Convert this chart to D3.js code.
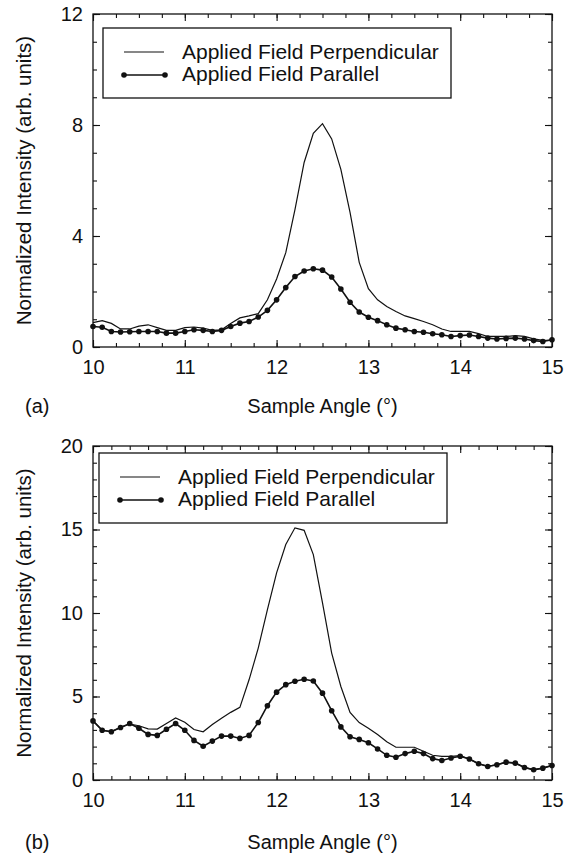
<!DOCTYPE html>
<meta charset="utf-8">
<style>

body {
  margin: 0;
  background: #fff;
}

svg {
  display: block;
}

text {
  font-family: "Liberation Sans", Arial, Helvetica, sans-serif;
  fill: #111;
}

.frame {
  fill: none;
  stroke: #111;
  stroke-width: 1.3;
}

.perp {
  fill: none;
  stroke: #111;
  stroke-width: 1.2;
}

.para {
  fill: none;
  stroke: #111;
  stroke-width: 1.6;
}

.dot {
  fill: #111;
}

</style>
<body>
<script src="https://cdn.jsdelivr.net/npm/d3@7"></script>
<script>

// sample angles (degrees), one reading every 0.1 deg
var angles = [10.0, 10.1, 10.2, 10.3, 10.4, 10.5, 10.6, 10.7, 10.8, 10.9,
              11.0, 11.1, 11.2, 11.3, 11.4, 11.5, 11.6, 11.7, 11.8, 11.9,
              12.0, 12.1, 12.2, 12.3, 12.4, 12.5, 12.6, 12.7, 12.8, 12.9,
              13.0, 13.1, 13.2, 13.3, 13.4, 13.5, 13.6, 13.7, 13.8, 13.9,
              14.0, 14.1, 14.2, 14.3, 14.4, 14.5, 14.6, 14.7, 14.8, 14.9, 15.0];

// panel (a)
var perpA = [0.88, 0.95, 0.85, 0.65, 0.65, 0.75, 0.80, 0.70, 0.60, 0.60,
             0.70, 0.72, 0.68, 0.60, 0.62, 0.85, 1.05, 1.12, 1.20, 1.70,
             2.45, 3.40, 4.95, 6.65, 7.70, 8.05, 7.50, 6.40, 4.85, 3.05,
             2.10, 1.70, 1.46, 1.28, 1.12, 1.02, 0.92, 0.80, 0.65, 0.56,
             0.56, 0.56, 0.48, 0.38, 0.38, 0.38, 0.41, 0.38, 0.29, 0.24, 0.24];

var paraA = [0.74, 0.71, 0.56, 0.54, 0.55, 0.56, 0.56, 0.56, 0.50, 0.50,
             0.56, 0.62, 0.60, 0.56, 0.60, 0.74, 0.86, 0.92, 1.08, 1.32,
             1.70, 2.14, 2.54, 2.74, 2.82, 2.77, 2.52, 2.09, 1.61, 1.26,
             1.07, 0.95, 0.80, 0.68, 0.62, 0.56, 0.53, 0.48, 0.44, 0.38,
             0.41, 0.43, 0.38, 0.32, 0.29, 0.31, 0.32, 0.29, 0.23, 0.20, 0.26];

// panel (b)
var perpB = [3.54, 2.98, 2.90, 3.15, 3.35, 3.25, 3.06, 3.05, 3.38, 3.72,
             3.46, 3.02, 2.89, 3.32, 3.70, 4.05, 4.35, 6.00, 7.90, 10.20,
             12.40, 14.10, 15.10, 14.95, 13.50, 10.60, 7.60, 5.60, 4.05, 3.44,
             3.10, 2.73, 2.29, 1.96, 1.96, 1.96, 1.72, 1.48, 1.42, 1.42,
             1.46, 1.26, 0.97, 0.83, 0.91, 1.07, 1.01, 0.76, 0.62, 0.71, 0.88];

var paraB = [3.54, 2.98, 2.89, 3.14, 3.38, 3.10, 2.73, 2.67, 3.04, 3.38,
             2.98, 2.37, 2.02, 2.33, 2.63, 2.63, 2.49, 2.67, 3.44, 4.45,
             5.26, 5.71, 5.91, 6.03, 5.93, 5.20, 4.15, 3.18, 2.59, 2.43,
             2.23, 1.86, 1.48, 1.36, 1.58, 1.72, 1.58, 1.28, 1.17, 1.32,
             1.42, 1.26, 0.97, 0.81, 0.91, 1.07, 1.01, 0.75, 0.61, 0.71, 0.87];

var xTicks = [10, 11, 12, 13, 14, 15];
var yTicksA = [0, 4, 8, 12];
var yTicksB = [0, 5, 10, 15, 20];
var legendLabels = ["Applied Field Perpendicular", "Applied Field Parallel"];
var xTitle = "Sample Angle (°)";
var yTitle = "Normalized Intensity (arb. units)";

var width = 574,
    height = 854;

var svg = d3.select("body").append("svg")
    .attr("width", width)
    .attr("height", height);

var left = 93, right = 552;

var x = d3.scaleLinear().domain([10, 15]).range([left, right]);

function drawPanel(opt) {
  var y = d3.scaleLinear().domain([0, opt.yMax]).range([opt.bottom, opt.top]);
  var g = svg.append("g");

  // minor ticks on all four sides, pointing in
  var xMinor = d3.range(10, 15.0001, opt.xMinorStep);
  var yMinor = d3.range(0, opt.yMax + 0.0001, opt.yMinorStep);

  g.append("g").attr("transform", "translate(0," + opt.bottom + ")")
      .call(d3.axisBottom(x).tickValues(xMinor).tickSize(-4).tickFormat(""));
  g.append("g").attr("transform", "translate(0," + opt.top + ")")
      .call(d3.axisTop(x).tickValues(xMinor).tickSize(-4).tickFormat(""));
  g.append("g").attr("transform", "translate(" + left + ",0)")
      .call(d3.axisLeft(y).tickValues(yMinor).tickSize(-4).tickFormat(""));
  g.append("g").attr("transform", "translate(" + right + ",0)")
      .call(d3.axisRight(y).tickValues(yMinor).tickSize(-4).tickFormat(""));

  // major ticks + labels
  g.append("g").attr("class", "xaxis").attr("transform", "translate(0," + opt.bottom + ")")
      .call(d3.axisBottom(x).tickValues(xTicks).tickSize(-7).tickPadding(13).tickFormat(d3.format("d")));
  g.append("g").attr("transform", "translate(0," + opt.top + ")")
      .call(d3.axisTop(x).tickValues(xTicks).tickSize(-7).tickFormat(""));
  g.append("g").attr("class", "yaxis").attr("transform", "translate(" + left + ",0)")
      .call(d3.axisLeft(y).tickValues(opt.yTicks).tickSize(-7).tickPadding(10).tickFormat(d3.format("d")));
  g.append("g").attr("transform", "translate(" + right + ",0)")
      .call(d3.axisRight(y).tickValues(opt.yTicks).tickSize(-7).tickFormat(""));

  g.selectAll(".domain").remove();
  g.selectAll(".tick line").attr("stroke", "#111").attr("stroke-width", 1.1);
  g.selectAll(".tick text").attr("font-size", 20).attr("fill", "#111")
      .attr("font-family", "Liberation Sans, Arial, sans-serif");

  g.append("rect").attr("class", "frame")
      .attr("x", left).attr("y", opt.top)
      .attr("width", right - left).attr("height", opt.bottom - opt.top);

  var line = d3.line()
      .x(function(d) { return x(d[0]); })
      .y(function(d) { return y(d[1]); });

  var perp = angles.map(function(a, i) { return [a, opt.perp[i]]; });
  var para = angles.map(function(a, i) { return [a, opt.para[i]]; });

  g.append("path").attr("class", "perp").attr("d", line(perp));
  g.append("path").attr("class", "para").attr("d", line(para));
  g.selectAll("circle.dot").data(para).enter().append("circle")
      .attr("class", "dot")
      .attr("cx", function(d) { return x(d[0]); })
      .attr("cy", function(d) { return y(d[1]); })
      .attr("r", 2.8);

  // legend
  var lg = g.append("g").attr("transform", "translate(" + opt.legendX + "," + opt.legendY + ")");
  lg.append("rect")
      .attr("width", 348).attr("height", 70)
      .attr("fill", "#fff").attr("stroke", "#111").attr("stroke-width", 1.3);
  lg.append("line").attr("class", "perp")
      .attr("x1", 21).attr("x2", 61).attr("y1", 24).attr("y2", 24);
  lg.append("line").attr("class", "para")
      .attr("x1", 21).attr("x2", 62).attr("y1", 47).attr("y2", 47);
  lg.selectAll("circle").data([21, 62]).enter().append("circle")
      .attr("class", "dot").attr("cx", function(d) { return d; }).attr("cy", 47).attr("r", 2.8);
  lg.selectAll("text").data(legendLabels).enter().append("text")
      .attr("x", 79)
      .attr("y", function(d, i) { return 30.5 + i * 22.5; })
      .attr("font-size", 21)
      .text(function(d) { return d; });

  // titles
  svg.append("text")
      .attr("x", (left + right) / 2).attr("y", opt.titleY)
      .attr("text-anchor", "middle").attr("font-size", 20)
      .text(xTitle);
  svg.append("text")
      .attr("x", 25).attr("y", opt.titleY)
      .attr("font-size", 20)
      .text(opt.tag);
  svg.append("text")
      .attr("transform", "translate(31," + (opt.top + opt.bottom) / 2 + ") rotate(-90)")
      .attr("text-anchor", "middle").attr("font-size", 20.5)
      .text(yTitle);
}

drawPanel({top: 14, bottom: 347, yMax: 12, yTicks: yTicksA, yMinorStep: 1, xMinorStep: 0.25,
           perp: perpA, para: paraA, legendX: 103, legendY: 28, titleY: 413, tag: "(a)"});

drawPanel({top: 446, bottom: 780, yMax: 20, yTicks: yTicksB, yMinorStep: 1, xMinorStep: 0.2,
           perp: perpB, para: paraB, legendX: 99, legendY: 453, titleY: 849, tag: "(b)"});

</script>
